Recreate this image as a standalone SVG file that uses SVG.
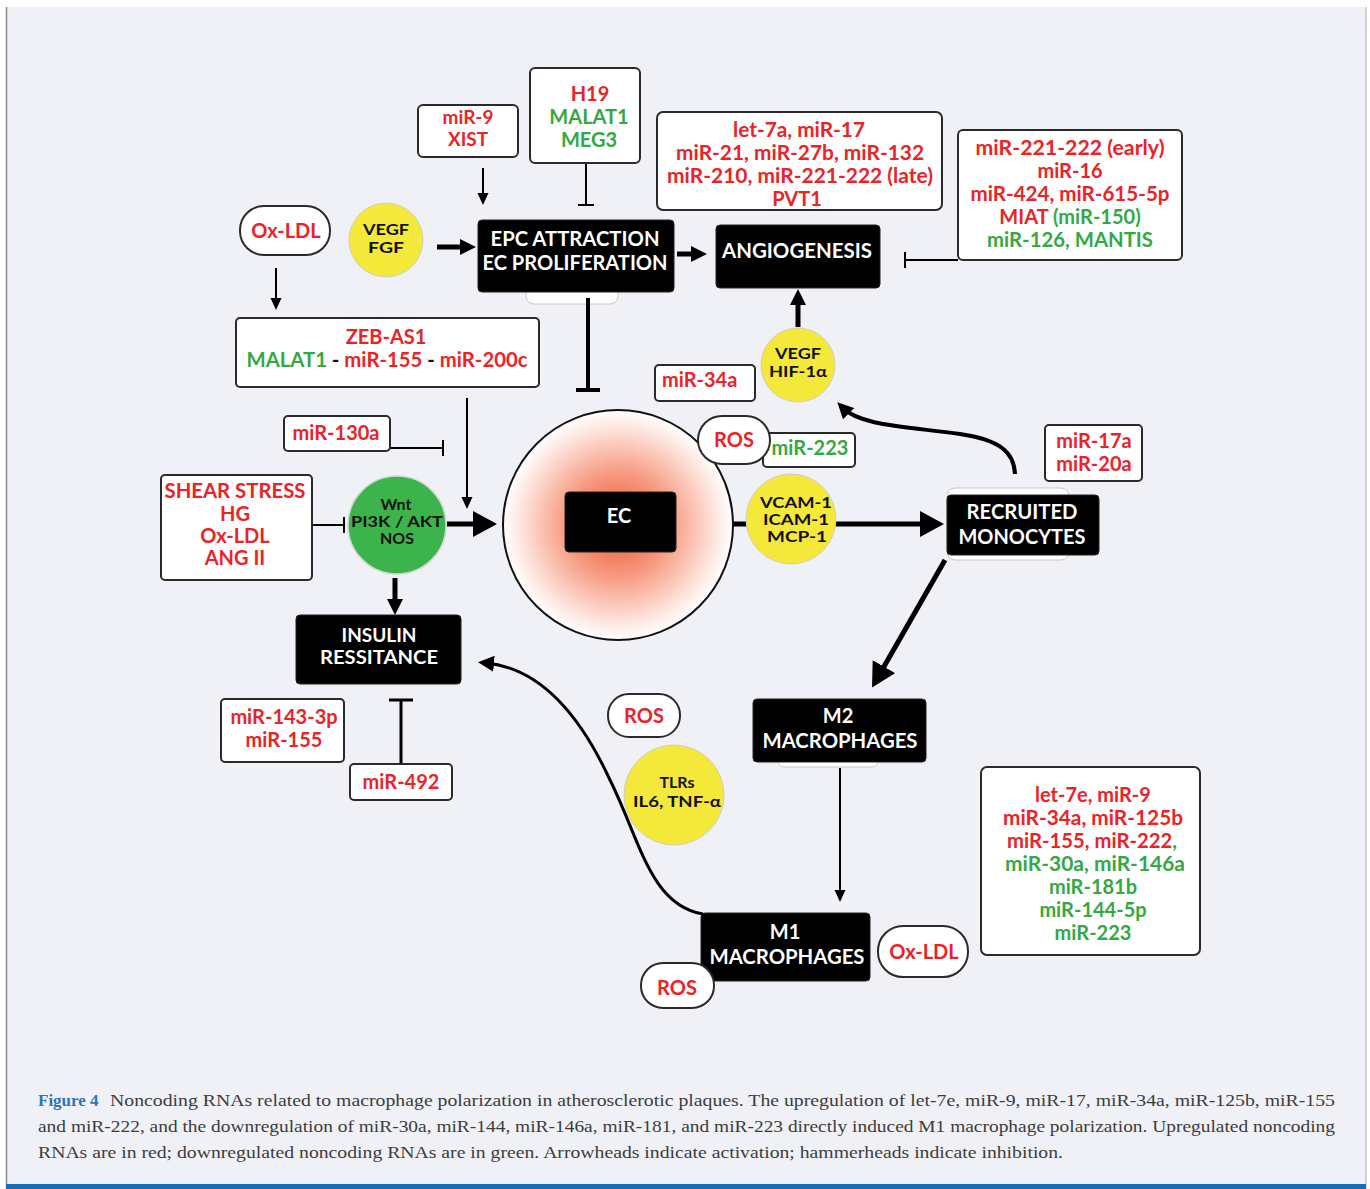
<svg xmlns="http://www.w3.org/2000/svg" width="1370" height="1189" viewBox="0 0 1370 1189">
<defs>
<style>
.t{font-family:Lato,"Open Sans","Liberation Sans",sans-serif;font-weight:700;text-anchor:middle}
.s{text-anchor:start}
.f20{font-size:20px}.f19{font-size:19px}.f17{font-size:17px}.f16{font-size:16px}
.r{fill:#ec2227}.g{fill:#34a843}.w{fill:#fff}.k{fill:#111}
.box{fill:#fff;stroke:#2a2a2a;stroke-width:2}
.blk{fill:#000;stroke:#222;stroke-width:1}
.yel{fill:#f4e83a;stroke:#cfcfc0;stroke-width:1}
.ghost{fill:#fff;stroke:#c8c8c8;stroke-width:1}
.ln{stroke:#000;fill:none}
.cap{font-family:"Liberation Serif","DejaVu Serif",serif;font-size:17px;fill:#3c3c3c}
</style>
<radialGradient id="ecg" cx="0.5" cy="0.5" r="0.5">
<stop offset="0" stop-color="#ef5232"/>
<stop offset="0.45" stop-color="#f69a80"/>
<stop offset="0.85" stop-color="#fde6df"/>
<stop offset="1" stop-color="#ffffff"/>
</radialGradient>
<marker id="aS" viewBox="0 0 12 12" refX="8" refY="6" markerWidth="12" markerHeight="12" markerUnits="userSpaceOnUse" orient="auto"><path d="M0,0.5 L12,6 L0,11.5 z" fill="#000"/></marker>
<marker id="aL" viewBox="0 0 16 16" refX="8" refY="8" markerWidth="16" markerHeight="16" markerUnits="userSpaceOnUse" orient="auto"><path d="M0,0 L16,8 L0,16 z" fill="#000"/></marker>
<marker id="aXL" viewBox="0 0 24 26" refX="12" refY="13" markerWidth="24" markerHeight="26" markerUnits="userSpaceOnUse" orient="auto"><path d="M0,0 L24,13 L0,26 z" fill="#000"/></marker>
</defs>

<!-- frame -->
<rect x="0" y="0" width="1370" height="1189" fill="#ffffff"/>
<rect x="6" y="7" width="1360" height="1182" fill="#f0f1f7"/>
<line x1="6.5" y1="7" x2="6.5" y2="1189" stroke="#8a8a8a" stroke-width="1.5"/>
<line x1="1366" y1="7" x2="1366" y2="1189" stroke="#b0b0b0" stroke-width="1"/>
<rect x="6" y="1184" width="1360" height="5" fill="#1b6db6"/>

<!-- ghost shapes behind boxes -->
<rect class="ghost" x="526" y="284" width="92" height="20" rx="8"/>
<rect class="ghost" x="947" y="488" width="122" height="72" rx="8"/>
<rect class="ghost" x="778" y="750" width="100" height="17" rx="6"/>

<!-- connectors -->
<g id="connectors">
<path class="ln" stroke-width="2" d="M483,168 V201" marker-end="url(#aS)"/>
<path class="ln" stroke-width="2" d="M586,163 V205 M578,205 H594"/>
<path class="ln" stroke-width="2" d="M276,268 V306" marker-end="url(#aS)"/>
<path class="ln" stroke-width="5" d="M437,247 H468" marker-end="url(#aL)"/>
<path class="ln" stroke-width="5" d="M677,254 H699" marker-end="url(#aL)"/>
<path class="ln" stroke-width="4" d="M588,298 V390 M576,390 H600"/>
<path class="ln" stroke-width="2" d="M958,260 H905 M905,252 V268"/>
<path class="ln" stroke-width="5" d="M798,327 V297" marker-end="url(#aL)"/>
<path class="ln" stroke-width="4" d="M1015,474 C1014,452 1000,440 960,434 C900,426 860,425 843,408" marker-end="url(#aL)"/>
<path class="ln" stroke-width="2" d="M467,398 V505" marker-end="url(#aS)"/>
<path class="ln" stroke-width="2" d="M390,448 H443 M443,440 V456"/>
<path class="ln" stroke-width="2" d="M312,525 H344 M344,517 V533"/>
<path class="ln" stroke-width="5" d="M447,524 H485" marker-end="url(#aXL)"/>
<path class="ln" stroke-width="5" d="M395,578 V607" marker-end="url(#aL)"/>
<path class="ln" stroke-width="3" d="M401,765 V700 M389,700 H413"/>
<path class="ln" stroke-width="5" d="M733,524 H932" marker-end="url(#aXL)"/>
<path class="ln" stroke-width="5" d="M945,560 L878,677" marker-end="url(#aXL)"/>
<path class="ln" stroke-width="2" d="M840,768 V898" marker-end="url(#aS)"/>
<path class="ln" stroke-width="3" d="M703,914 C650,905 640,840 610,780 C580,715 540,668 486,663" marker-end="url(#aL)"/>
</g>

<!-- nodes -->
<g id="n-mir9"><rect class="box" x="418" y="105" width="100" height="52" rx="5"/>
<text class="t f19 r" x="468" y="124">miR-9</text><text class="t f19 r" x="468" y="146">XIST</text></g>

<g id="n-h19"><rect class="box" x="530" y="68" width="110" height="95" rx="5"/>
<text class="t f20 r" x="590" y="101">H19</text><text class="t f20 g" x="589" y="124">MALAT1</text><text class="t f20 g" x="589" y="147">MEG3</text></g>

<g id="n-oxldl1"><rect class="box" x="240" y="206" width="90" height="49" rx="24"/>
<text class="t f20 r" x="286" y="238">Ox-LDL</text></g>

<g id="n-vegffgf"><circle class="yel" cx="386" cy="240" r="37"/>
<text class="t f16 k" x="386" y="235" textLength="46" lengthAdjust="spacingAndGlyphs">VEGF</text><text class="t f16 k" x="386" y="253" textLength="36" lengthAdjust="spacingAndGlyphs">FGF</text></g>

<g id="n-epc"><rect class="blk" x="478" y="220" width="196" height="72" rx="4"/>
<text class="t f20 w" x="575" y="246" textLength="169" lengthAdjust="spacingAndGlyphs">EPC ATTRACTION</text>
<text class="t f20 w" x="575" y="270" textLength="185" lengthAdjust="spacingAndGlyphs">EC PROLIFERATION</text></g>

<g id="n-let7a"><rect class="box" x="657" y="112" width="285" height="98" rx="6"/>
<text class="t f20 r" x="799" y="137" textLength="132" lengthAdjust="spacingAndGlyphs">let-7a, miR-17</text>
<text class="t f20 r" x="800" y="160" textLength="248" lengthAdjust="spacingAndGlyphs">miR-21, miR-27b, miR-132</text>
<text class="t f20 r" x="800" y="183" textLength="266" lengthAdjust="spacingAndGlyphs">miR-210, miR-221-222 (late)</text>
<text class="t f20 r" x="797" y="206">PVT1</text></g>

<g id="n-angio"><rect class="blk" x="716" y="225" width="164" height="63" rx="4"/>
<text class="t f20 w" x="797" y="258" textLength="150" lengthAdjust="spacingAndGlyphs">ANGIOGENESIS</text></g>

<g id="n-mir221"><rect class="box" x="958" y="130" width="224" height="130" rx="5"/>
<text class="t f20 r" x="1070" y="155" textLength="189" lengthAdjust="spacingAndGlyphs">miR-221-222 (early)</text>
<text class="t f20 r" x="1070" y="178">miR-16</text>
<text class="t f20 r" x="1070" y="201" textLength="199" lengthAdjust="spacingAndGlyphs">miR-424, miR-615-5p</text>
<text class="t f20 r" x="1070" y="224">MIAT <tspan class="g">(miR-150)</tspan></text>
<text class="t f20 g" x="1070" y="247" textLength="166" lengthAdjust="spacingAndGlyphs">miR-126, MANTIS</text></g>

<g id="n-zeb"><rect class="box" x="236" y="318" width="303" height="69" rx="4"/>
<text class="t f20 r" x="386" y="344">ZEB-AS1</text>
<text class="t f20 k" x="387" y="367" textLength="281" lengthAdjust="spacingAndGlyphs"><tspan class="g">MALAT1</tspan> - <tspan class="r">miR-155</tspan> - <tspan class="r">miR-200c</tspan></text></g>

<g id="n-mir34a"><rect class="box" x="655" y="365" width="100" height="36" rx="4"/>
<text class="t f20 s r" x="662" y="387">miR-34a</text></g>

<g id="n-vegfhif"><circle class="yel" cx="798" cy="365" r="37"/>
<text class="t f16 k" x="798" y="359" textLength="46" lengthAdjust="spacingAndGlyphs">VEGF</text><text class="t f16 k" x="798" y="377" textLength="58" lengthAdjust="spacingAndGlyphs">HIF-1α</text></g>

<g id="n-mir130a"><rect class="box" x="284" y="416" width="106" height="35" rx="4"/>
<text class="t f20 r" x="336" y="440">miR-130a</text></g>

<g id="n-shear"><rect class="box" x="161" y="475" width="151" height="105" rx="4"/>
<text class="t f20 r" x="235" y="498" textLength="141" lengthAdjust="spacingAndGlyphs">SHEAR STRESS</text>
<text class="t f20 r" x="235" y="521">HG</text>
<text class="t f20 r" x="235" y="543">Ox-LDL</text>
<text class="t f20 r" x="235" y="565">ANG II</text></g>

<g id="n-wnt"><circle cx="397" cy="525" r="49" fill="#3cb44b" stroke="#cfd8cf" stroke-width="1.5"/>
<text class="t f16 k" x="396" y="510">Wnt</text>
<text class="t f16 k" x="397" y="527" textLength="92" lengthAdjust="spacingAndGlyphs">PI3K / AKT</text>
<text class="t f16 k" x="397" y="544">NOS</text></g>

<g id="n-ec"><circle cx="618" cy="525" r="115" fill="url(#ecg)" stroke="#111" stroke-width="2"/>
<rect class="blk" x="565" y="492" width="111" height="60" rx="4"/>
<text class="t f20 w" x="619" y="523">EC</text></g>

<g id="n-mir223"><rect class="box" x="763" y="433" width="92" height="34" rx="4"/>
<text class="t f20 g" x="810" y="455">miR-223</text></g>

<g id="n-ros1"><rect class="box" x="698" y="416" width="72" height="48" rx="24"/>
<text class="t f20 r" x="734" y="447">ROS</text></g>

<g id="n-vcam"><circle class="yel" cx="791" cy="519" r="45"/>
<text class="t f16 k" x="796" y="508" textLength="72" lengthAdjust="spacingAndGlyphs">VCAM-1</text>
<text class="t f16 k" x="796" y="525" textLength="66" lengthAdjust="spacingAndGlyphs">ICAM-1</text>
<text class="t f16 k" x="797" y="542" textLength="60" lengthAdjust="spacingAndGlyphs">MCP-1</text></g>

<g id="n-mir17a"><rect class="box" x="1045" y="425" width="97" height="56" rx="4"/>
<text class="t f20 r" x="1094" y="448">miR-17a</text><text class="t f20 r" x="1094" y="471">miR-20a</text></g>

<g id="n-recruited"><rect class="blk" x="947" y="495" width="152" height="60" rx="4"/>
<text class="t f20 w" x="1022" y="519" textLength="111" lengthAdjust="spacingAndGlyphs">RECRUITED</text>
<text class="t f20 w" x="1022" y="544" textLength="127" lengthAdjust="spacingAndGlyphs">MONOCYTES</text></g>

<g id="n-insulin"><rect class="blk" x="296" y="615" width="165" height="69" rx="4"/>
<text class="t f19 w" x="379" y="642">INSULIN</text>
<text class="t f19 w" x="379" y="664" textLength="118" lengthAdjust="spacingAndGlyphs">RESSITANCE</text></g>

<g id="n-mir143"><rect class="box" x="221" y="699" width="123" height="63" rx="4"/>
<text class="t f20 r" x="284" y="724">miR-143-3p</text><text class="t f20 r" x="284" y="747">miR-155</text></g>

<g id="n-mir492"><rect class="box" x="350" y="764" width="102" height="36" rx="4"/>
<text class="t f20 r" x="401" y="789">miR-492</text></g>

<g id="n-ros2"><rect class="box" x="608" y="694" width="72" height="43" rx="21"/>
<text class="t f20 r" x="644" y="723">ROS</text></g>

<g id="n-tlrs"><circle class="yel" cx="674" cy="795" r="50"/>
<text class="t f16 k" x="677" y="788">TLRs</text><text class="t f16 k" x="677" y="807" textLength="88" lengthAdjust="spacingAndGlyphs">IL6, TNF-α</text></g>

<g id="n-m2"><rect class="blk" x="753" y="699" width="173" height="63" rx="4"/>
<text class="t f20 w" x="838" y="723">M2</text>
<text class="t f20 w" x="840" y="748" textLength="155" lengthAdjust="spacingAndGlyphs">MACROPHAGES</text></g>

<g id="n-let7e"><rect class="box" x="981" y="767" width="219" height="188" rx="6"/>
<text class="t f20 r" x="1093" y="802">let-7e, miR-9</text>
<text class="t f20 r" x="1093" y="825" textLength="180" lengthAdjust="spacingAndGlyphs">miR-34a, miR-125b</text>
<text class="t f20 r" x="1092" y="848" textLength="170" lengthAdjust="spacingAndGlyphs">miR-155, miR-222<tspan class="g">,</tspan></text>
<text class="t f20 g" x="1095" y="871" textLength="180" lengthAdjust="spacingAndGlyphs">miR-30a, miR-146a</text>
<text class="t f20 g" x="1093" y="894">miR-181b</text>
<text class="t f20 g" x="1093" y="917">miR-144-5p</text>
<text class="t f20 g" x="1093" y="940">miR-223</text></g>

<g id="n-m1"><rect class="blk" x="701" y="913" width="169" height="68" rx="4"/>
<text class="t f20 w" x="785" y="939">M1</text>
<text class="t f20 w" x="787" y="964" textLength="155" lengthAdjust="spacingAndGlyphs">MACROPHAGES</text></g>

<g id="n-oxldl2"><rect class="box" x="878" y="926" width="90" height="51" rx="25"/>
<text class="t f20 r" x="924" y="959">Ox-LDL</text></g>

<g id="n-ros3"><rect class="box" x="641" y="963" width="73" height="45" rx="22"/>
<text class="t f20 r" x="677" y="995">ROS</text></g>

<!-- caption -->
<g id="caption">
<text class="cap" x="38" y="1106" style="font-weight:700;fill:#2f74c0">Figure 4</text>
<text class="cap" x="110" y="1106" textLength="1225" lengthAdjust="spacingAndGlyphs">Noncoding RNAs related to macrophage polarization in atherosclerotic plaques. The upregulation of let-7e, miR-9, miR-17, miR-34a, miR-125b, miR-155</text>
<text class="cap" x="38" y="1132" textLength="1297" lengthAdjust="spacingAndGlyphs">and miR-222, and the downregulation of miR-30a, miR-144, miR-146a, miR-181, and miR-223 directly induced M1 macrophage polarization. Upregulated noncoding</text>
<text class="cap" x="38" y="1158" textLength="1025" lengthAdjust="spacingAndGlyphs">RNAs are in red; downregulated noncoding RNAs are in green. Arrowheads indicate activation; hammerheads indicate inhibition.</text>
</g>
</svg>
